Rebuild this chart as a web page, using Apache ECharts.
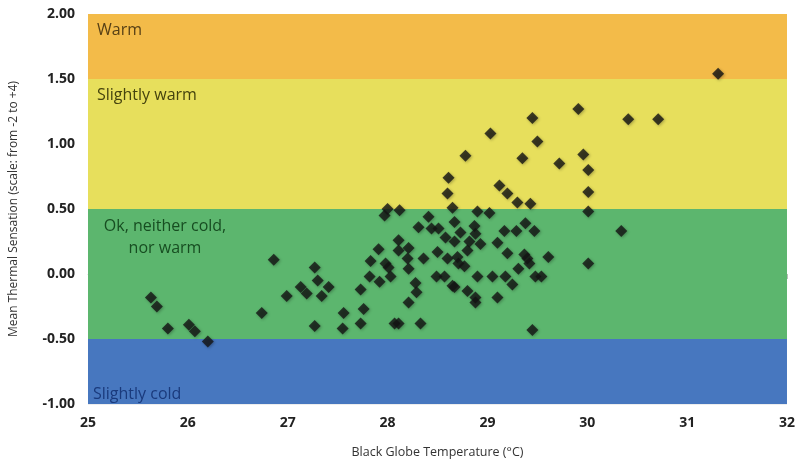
<!DOCTYPE html>
<html>
<head>
<meta charset="utf-8">
<script src="https://cdn.jsdelivr.net/npm/echarts@6/dist/echarts.min.js"></script>
<style>
    html, body { margin: 0; padding: 0; background: #fff; }
    #chart { width: 798px; height: 465px; }
</style>
</head>
<body>
<div id="chart"></div>
<script>
// 刻度
var xTicks = [25, 26, 27, 28, 29, 30, 31, 32]
var yTicks = [-1, -0.5, 0, 0.5, 1, 1.5, 2]

// 舒适区间
var bandNames = ['Slightly cold', 'Ok, neither cold,\nnor warm', 'Slightly warm', 'Warm']
var bandFrom = [-1, -0.5, 0.5, 1.5]
var bandTo = [-0.5, 0.5, 1.5, 2]
var bandColors = ['#4777bf', '#5cb66e', '#e7df5c', '#f3bb49']
var bandTextColors = ['#1a3a7c', '#174d21', '#45430e', '#574016']

// 散点数据 (温度, 热感觉)
var globeTemp = [
    25.63, 25.69, 25.80, 26.01, 26.07, 26.20, 26.74, 26.86, 26.99, 27.13,
    27.19, 27.27, 27.30, 27.34, 27.41, 27.27, 27.56, 27.55, 27.73, 27.76,
    27.73, 27.82, 27.83, 27.91, 27.92, 27.98, 28.01, 28.03, 27.97, 28.00,
    28.12, 28.07, 28.11, 28.11, 28.11, 28.21, 28.20, 28.21, 28.28, 28.29,
    28.21, 28.33, 28.31, 28.41, 28.44, 28.51, 28.36, 28.50, 28.49, 28.57,
    28.65, 28.60, 28.58, 28.67, 28.61, 28.60, 28.65, 28.67, 28.73, 28.71,
    28.77, 28.67, 28.80, 28.82, 28.80, 28.78, 28.87, 28.88, 28.90, 28.93,
    28.90, 28.88, 28.88, 29.02, 29.03, 29.05, 29.10, 29.10, 29.12, 29.20,
    29.17, 29.20, 29.18, 29.25, 29.30, 29.29, 29.31, 29.35, 29.38, 29.37,
    29.40, 29.42, 29.43, 29.45, 29.50, 29.47, 29.48, 29.54, 29.45, 29.61,
    29.72, 29.91, 29.96, 30.01, 30.01, 30.01, 30.01, 30.34, 30.41, 30.71,
    31.31, 28.70
]
var sensation = [
    -0.18, -0.25, -0.42, -0.39, -0.44, -0.52, -0.30, 0.11, -0.17, -0.10,
    -0.15, 0.05, -0.05, -0.17, -0.10, -0.40, -0.30, -0.42, -0.12, -0.27,
    -0.38, -0.02, 0.10, 0.19, -0.06, 0.08, 0.05, -0.02, 0.45, 0.50,
    0.49, -0.38, -0.38, 0.26, 0.18, 0.20, 0.12, 0.04, -0.07, -0.14,
    -0.22, -0.38, 0.36, 0.44, 0.35, 0.35, 0.12, 0.17, -0.02, -0.02,
    -0.09, 0.12, 0.28, 0.25, 0.74, 0.62, 0.51, 0.40, 0.32, 0.08,
    0.06, -0.10, 0.18, 0.25, -0.13, 0.91, 0.37, 0.31, 0.48, 0.23,
    -0.02, -0.18, -0.22, 0.47, 1.08, -0.02, 0.24, -0.18, 0.68, 0.62,
    0.33, 0.16, -0.02, -0.08, 0.55, 0.33, 0.04, 0.89, 0.39, 0.15,
    0.12, 0.08, 0.54, 1.20, 1.02, 0.33, -0.02, -0.02, -0.43, 0.13,
    0.85, 1.27, 0.92, 0.80, 0.63, 0.48, 0.08, 0.33, 1.19, 1.19,
    1.54, 0.13
]

var points = globeTemp.map(function (t, i) {
    return [t, sensation[i]]
})

// 标签位置
var labelPos = [
    { position: 'insideBottomLeft', distance: 1, offset: [4, 2] },
    { position: [77, 6], align: 'center' },
    { position: 'insideTopLeft', distance: 5, offset: [4, 0] },
    { position: 'insideTopLeft', distance: 5, offset: [4, 0] }
]

var areas = bandNames.map(function (name, i) {
    var lbl = Object.assign({
        show: true,
        color: bandTextColors[i],
        fontSize: 16,
        fontFamily: 'Open Sans',
        lineHeight: 22
    }, labelPos[i])
    return [
        { name: name, yAxis: bandFrom[i], itemStyle: { color: bandColors[i], opacity: 1 }, label: lbl },
        { yAxis: bandTo[i] }
    ]
})

var myChart = echarts.init(document.getElementById('chart'))
var option = {
    animation: false,
    grid: {
        left: 86,
        right: 5,
        top: 14,
        bottom: 61
    },
    xAxis: {
        type: 'value',
        min: xTicks[0],
        max: xTicks[xTicks.length - 1],
        interval: 1,
        name: 'Black Globe Temperature (°C)',
        nameLocation: 'middle',
        nameGap: 42,
        nameTextStyle: { color: '#333', fontSize: 12.5, fontFamily: 'Open Sans' },
        axisLine: { lineStyle: { color: '#ccc' } },
        axisTick: { show: true, lineStyle: { color: '#bbb' } },
        axisLabel: { color: '#222', fontSize: 14, fontWeight: 'bold', fontFamily: 'Open Sans', margin: 12 },
        splitLine: { show: false }
    },
    yAxis: {
        type: 'value',
        min: yTicks[0],
        max: yTicks[yTicks.length - 1],
        interval: 0.5,
        name: 'Mean Thermal Sensation (scale: from -2 to +4)',
        nameLocation: 'middle',
        nameGap: 68,
        nameTextStyle: { color: '#333', fontSize: 12, fontFamily: 'Open Sans' },
        axisLine: { show: false },
        axisTick: { show: false },
        axisLabel: {
            color: '#222',
            fontSize: 14,
            fontWeight: 'bold',
            fontFamily: 'Open Sans',
            margin: 13,
            formatter: function (v) { return v.toFixed(2) }
        },
        splitLine: { show: true, lineStyle: { color: 'rgba(0,0,0,0.07)' } }
    },
    series: [{
        type: 'scatter',
        symbol: 'diamond',
        symbolSize: 12,
        data: points,
        itemStyle: {
            color: '#141414',
            shadowColor: 'rgba(0,0,0,0.35)',
            shadowBlur: 3,
            shadowOffsetX: 1,
            shadowOffsetY: 1
        },
        markArea: {
            silent: true,
            data: areas
        },
        z: 3
    }]
}
myChart.setOption(option)
</script>
</body>
</html>
